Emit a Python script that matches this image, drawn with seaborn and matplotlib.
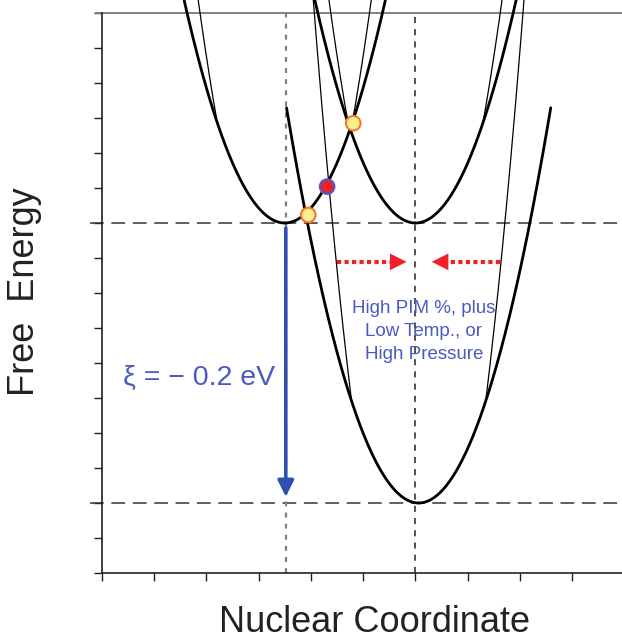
import numpy as np
import pandas as pd
import matplotlib
matplotlib.use("Agg")
import matplotlib.pyplot as plt
import seaborn as sns

sns.set_theme(style="ticks")
plt.rcParams["font.family"] = ["Liberation Sans", "DejaVu Sans"]

# free energy parabolas (axis units: x ticks 0..9, y ticks 0..16)
curve_center = [3.50, 6.00, 6.06, 3.50, 6.00, 6.06]
curve_min = [10.0, 10.0, 2.0, 7.42, 7.42, -2.9]
curve_k = [1.72, 1.72, 1.77, 3.27, 3.27, 4.75]
curve_bottom = [10.0, 10.0, 2.0, 12.86, 12.86, 5.0]
curve_top = [16.37, 16.37, 13.29, 16.37, 16.37, 16.37]
curve_thick = [True, True, True, False, False, False]

# crossing points
dot_x = [3.95, 4.31, 4.81]
dot_y = [10.23, 11.04, 12.85]
dot_face = ["#f7f08e", "#e8232b", "#f7f08e"]
dot_edge = ["#f07a2a", "#5a55c8", "#f07a2a"]

level_y = [10.0, 2.0]
guide_x = [3.52, 6.0]

drop_x = 3.52
drop_from, drop_to = 9.85, 2.18
xi_label = "ξ = − 0.2 eV"

shift_y = 8.89
shift_left = [4.49, 5.83]
shift_right = [7.62, 6.31]
note_lines = ["High PIM %, plus", "Low Temp., or", "High Pressure"]

rows = []
for i, (c, m, k, lo, hi) in enumerate(zip(curve_center, curve_min, curve_k, curve_bottom, curve_top)):
    dx = np.linspace(np.sqrt((lo - m) / k), np.sqrt((hi - m) / k), 300)
    for side, sgn in (("L", -1), ("R", 1)):
        for d in dx:
            rows.append({"x": c + sgn * d, "y": m + k * d * d,
                         "branch": f"{i}{side}", "thick": curve_thick[i]})
curves = pd.DataFrame(rows)

fig = plt.figure(figsize=(6.22, 6.38), dpi=100)
ax = fig.add_axes([101.7 / 622, 65 / 638, 1 - 101.7 / 622, 560 / 638])

for thick, lw in ((True, 2.0), (False, 0.9)):
    sub = curves[curves["thick"] == thick]
    sns.lineplot(data=sub, x="x", y="y", units="branch", estimator=None, sort=False,
                 color="black", lw=lw, ax=ax, clip_on=False, zorder=3)

for y in level_y:
    ax.plot([-0.22, 10], [y, y], color="#333333", lw=1.1, ls=(0, (9, 5)),
            clip_on=False, zorder=2)
ax.plot([-0.1, 10], [16, 16], color="#808080", lw=1.4, clip_on=False, zorder=2)
ax.axvline(guide_x[0], color="#808080", lw=1.6, ls=(0, (2.2, 2.8)), zorder=2)
ax.axvline(guide_x[1], color="#222222", lw=1.1, ls=(0, (4, 4)), zorder=2)

ax.annotate("", xy=(drop_x, drop_to), xytext=(drop_x, drop_from),
            arrowprops=dict(arrowstyle="-|>", color="#2f4fb5", lw=2.6,
                            mutation_scale=24, shrinkA=0, shrinkB=0), zorder=4)
ax.text(0.41, 5.57, xi_label, color="#4a5bbf", fontsize=20.5, ha="left", va="center")

for start, tip in (shift_left, shift_right):
    ax.plot([start, tip - 0.3 * np.sign(tip - start)], [shift_y, shift_y],
            color="#f0202a", lw=3, ls=(0, (1, 0.8)), solid_capstyle="butt", zorder=4)
    ax.annotate("", xy=(tip, shift_y), xytext=(tip - 0.45 * np.sign(tip - start), shift_y),
                arrowprops=dict(arrowstyle="-|>", color="#f0202a", lw=0,
                                mutation_scale=30, shrinkA=0, shrinkB=0), zorder=4)

for j, line in enumerate(note_lines):
    ax.text(6.16, 7.55 - j * 0.66, line, color="#4a5bbf", fontsize=13.5,
            ha="center", va="center")

sns.scatterplot(x=dot_x, y=dot_y, c=dot_face, edgecolor=dot_edge, linewidth=1.5,
                s=110, ax=ax, zorder=5, clip_on=False)

ax.set_xlim(0, (622 - 101.7) / 52.3)
ax.set_ylim(0, 16)
ax.set_xticks(range(10))
ax.set_yticks(range(17))
ax.tick_params(direction="out", length=6, width=1, color="#222222",
               labelleft=False, labelbottom=False)
ax.set_xlabel("")
ax.set_ylabel("")
for side in ("left", "bottom"):
    ax.spines[side].set_color("#222222")
    ax.spines[side].set_linewidth(1.2)
ax.spines["top"].set_visible(False)
ax.spines["right"].set_visible(False)

fig.text(374.5 / 622, 1 - 622 / 638, "Nuclear Coordinate", fontsize=26,
         color="#222222", ha="center", va="center")
fig.text(25 / 622, 1 - 292 / 638, "Free  Energy", fontsize=26, rotation=90,
         color="#222222", ha="center", va="center")

fig.savefig("out.png", dpi=100)
